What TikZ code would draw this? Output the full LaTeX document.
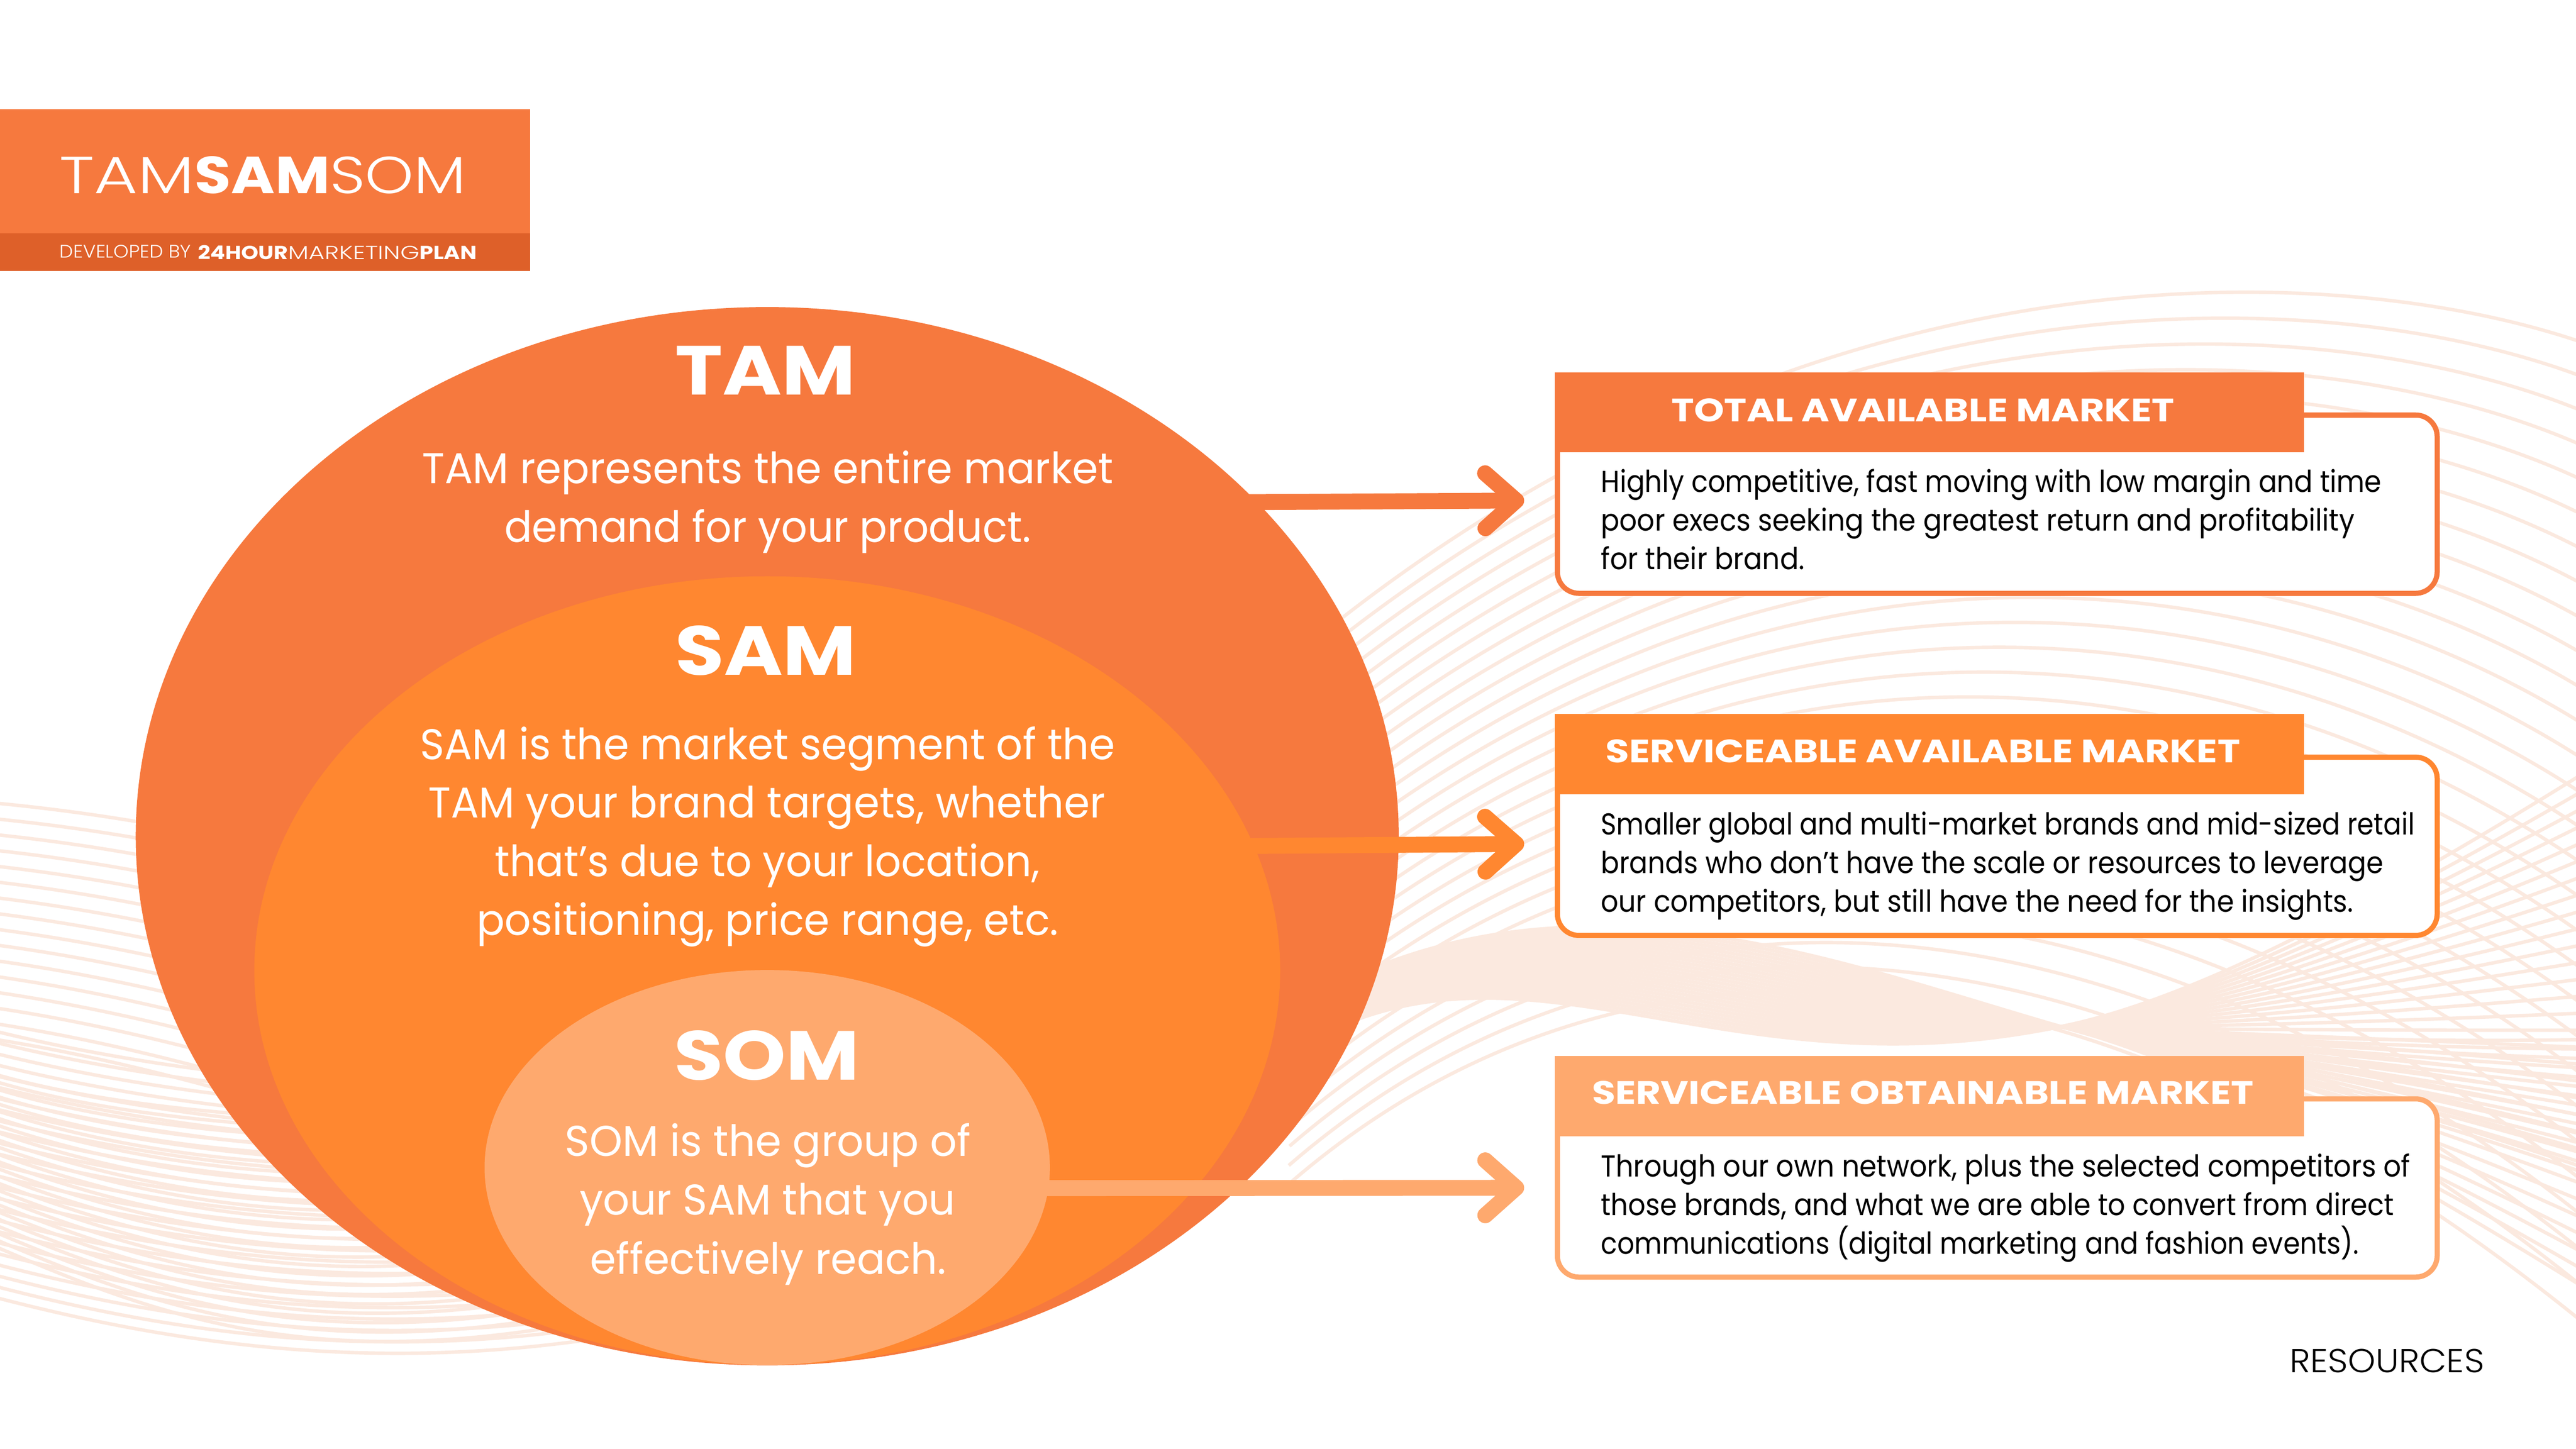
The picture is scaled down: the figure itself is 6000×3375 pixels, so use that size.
\documentclass[tikz,border=0pt]{standalone}
\usepackage{fontspec}
\usepackage{graphicx}
\usetikzlibrary{calc,arrows.meta,shapes.geometric}
\setmainfont{Poppins}
\newfontfamily\poplight{Poppins Light}
\newcommand\fw[2]{\resizebox{#1cm}{\height}{#2}}
\newcommand\blendfam[9]{%
  \foreach \i in {0,...,#1}{%
    \pgfmathsetmacro\t{\i/#1}%
    \draw[wave] ($#2!\t!#6$) .. controls ($#3!\t!#7$) and ($#4!\t!#8$) .. ($#5!\t!#9$);
  }}
\definecolor{tamc}{HTML}{F6793E}
\definecolor{samc}{HTML}{FF8730}
\definecolor{somc}{HTML}{FEA96E}
\definecolor{bandc}{HTML}{DE6029}
\definecolor{wavec}{HTML}{FBE9DF}
\tikzset{
  wave/.style={draw=wavec,line width=0.08cm},
  ln/.style={anchor=base west,inner sep=0pt,outer sep=0pt,text=white},
  bodyL/.style={ln,font=\fontsize{28.5}{34}\selectfont},
  titleL/.style={ln,font=\fontsize{46}{52}\selectfont\bfseries},
  boxL/.style={ln,text=black,font=\fontsize{20}{24}\selectfont},
  headL/.style={ln,font=\fontsize{21.5}{26}\selectfont\bfseries},
  oval/.style={ellipse,inner sep=0pt,outer sep=0pt},
  pane/.style={rectangle,rounded corners=0.5cm,fill=white,line width=0.12cm,inner sep=0pt,outer sep=0pt,minimum width=20.48cm,minimum height=4.15cm},
  head/.style={rectangle,inner sep=0pt,outer sep=0pt,minimum width=17.43cm,minimum height=1.87cm},
  arrowline/.style={line width=0.37cm,-{Straight Barb[length=0.72cm,width=1.28cm,round]}},
}
\begin{document}
\begin{tikzpicture}[x=0.01cm,y=-0.01cm]
\useasboundingbox (0,0) rectangle (6000,3375);
\fill[white] (0,0) rectangle (6000,3375);
\begin{scope}
\clip (0,0) rectangle (6000,3375);
% upper right arcs
\blendfam{28}{(3050,1500)}{(4300,480)}{(5600,620)}{(6100,830)}{(3000,2760)}{(3700,2150)}{(4800,2050)}{(6100,3150)}
% dense band
\blendfam{26}{(3100,2300)}{(3700,2000)}{(4300,2250)}{(4830,2400)}{(3100,2400)}{(3600,2170)}{(4050,2560)}{(4830,2385)}
\blendfam{30}{(4830,2400)}{(5200,2500)}{(5700,2800)}{(6100,3050)}{(4830,2385)}{(5200,2300)}{(5700,2000)}{(6100,1750)}
\blendfam{14}{(4830,2385)}{(5200,2420)}{(5700,2430)}{(6100,2420)}{(4830,2400)}{(5200,2470)}{(5700,2620)}{(6100,2760)}
% left fans
\blendfam{15}{(-20,1870)}{(300,1900)}{(600,1960)}{(900,2050)}{(-20,2420)}{(300,2470)}{(600,2560)}{(900,2650)}
\blendfam{24}{(-20,2400)}{(300,2480)}{(700,2530)}{(1000,2530)}{(-20,3020)}{(400,3130)}{(900,3210)}{(1500,3100)}
\blendfam{24}{(-20,2500)}{(250,2580)}{(600,2600)}{(800,2610)}{(-20,2900)}{(350,3060)}{(700,3190)}{(1300,3090)}
\end{scope}

% logo
\fill[tamc] (0,254) rectangle (1235,543);
\fill[bandc] (0,543) rectangle (1235,631);
\node[ln] (logotitle) at (138,450) {\fontsize{34.5}{40}\selectfont\fw{3.15}{\poplight TAM}\fw{3.15}{\bfseries SAM}\fw{3.17}{\poplight SOM}};
\node[ln] (logodev) at (139,601) {\fontsize{12}{14}\selectfont\fw{3.06}{\poplight DEVELOPED BY}};
\node[ln] (logobrand) at (461,604) {\fontsize{12.5}{14}\selectfont\fw{2.10}{\bfseries 24HOUR}\fw{3.06}{\poplight MARKETING}\fw{1.33}{\bfseries PLAN}};

% ovals
\node[oval,fill=tamc,minimum width=29.40cm,minimum height=24.64cm] (tam) at (1787,1948) {};
\node[oval,fill=samc,minimum width=23.88cm,minimum height=18.36cm] (sam) at (1787,2261) {};
\node[oval,fill=somc,minimum width=13.16cm,minimum height=9.20cm] (som) at (1787,2720) {};

% arrows
\coordinate (a1s) at (2880,1170);
\coordinate (a1e) at (3550,1166);
\coordinate (a2s) at (2880,1971);
\coordinate (a2e) at (3550,1966);
\coordinate (a3s) at (2400,2768);
\coordinate (a3e) at (3550,2767);
\draw[arrowline,draw=tamc] (a1s) -- (a1e);
\draw[arrowline,draw=samc] (a2s) -- (a2e);
\draw[arrowline,draw=somc] (a3s) -- (a3e);

% oval texts
\node[titleL] (t1) at (1572,920) {\fw{4.21}{TAM}};
\node[bodyL] (t2) at (983,1126) {\fw{16.09}{TAM represents the entire market}};
\node[bodyL] (t3) at (1175,1263) {\fw{12.26}{demand for your product.}};
\node[titleL] (s1) at (1572,1572) {\fw{4.22}{SAM}};
\node[bodyL] (s2) at (978,1769) {\fw{16.18}{SAM is the market segment of the}};
\node[bodyL] (s3) at (998,1905) {\fw{15.76}{TAM your brand targets, whether}};
\node[bodyL] (s4) at (1152,2042) {\fw{12.69}{that’s due to your location,}};
\node[bodyL] (s5) at (1110,2178) {\fw{13.55}{positioning, price range, etc.}};
\node[titleL] (o1) at (1570,2516) {\fw{4.32}{SOM}};
\node[bodyL] (o2) at (1316,2693) {\fw{9.45}{SOM is the group of}};
\node[bodyL] (o3) at (1350,2830) {\fw{8.75}{your SAM that you}};
\node[bodyL] (o4) at (1374,2968) {\fw{8.30}{effectively reach.}};

% boxes
\node[pane,draw=tamc] (p1) at (4652,1174.5) {};
\node[head,fill=tamc,anchor=north west] (h1) at (3622,867) {};
\node[headL] (h1t) at (3893,982) {\fw{11.71}{TOTAL AVAILABLE MARKET}};
\node[boxL] (b11) at (3729,1147) {\fw{18.17}{Highly competitive, fast moving with low margin and time}};
\node[boxL] (b12) at (3729,1236) {\fw{17.54}{poor execs seeking the greatest return and profitability}};
\node[boxL] (b13) at (3729,1326) {\fw{4.74}{for their brand.}};

\node[pane,draw=samc] (p2) at (4652,1971.5) {};
\node[head,fill=samc,anchor=north west] (h2) at (3622,1663) {};
\node[headL] (h2t) at (3740,1776) {\fw{14.77}{SERVICEABLE AVAILABLE MARKET}};
\node[boxL] (b21) at (3729,1944) {\fw{18.94}{Smaller global and multi-market brands and mid-sized retail}};
\node[boxL] (b22) at (3729,2034) {\fw{18.21}{brands who don’t have the scale or resources to leverage}};
\node[boxL] (b23) at (3729,2124) {\fw{17.51}{our competitors, but still have the need for the insights.}};

\node[pane,draw=somc] (p3) at (4652,2767.5) {};
\node[head,fill=somc,anchor=north west] (h3) at (3622,2460) {};
\node[headL] (h3t) at (3708,2572) {\fw{15.40}{SERVICEABLE OBTAINABLE MARKET}};
\node[boxL] (b31) at (3729,2741) {\fw{18.84}{Through our own network, plus the selected competitors of}};
\node[boxL] (b32) at (3729,2831) {\fw{18.46}{those brands, and what we are able to convert from direct}};
\node[boxL] (b33) at (3729,2921) {\fw{17.64}{communications (digital marketing and fashion events).}};

\node[ln,text=black,font=\fontsize{22}{26}\selectfont] (res) at (5333,3197) {\fw{4.53}{\poplight RESOURCES}};
\end{tikzpicture}
\end{document}
